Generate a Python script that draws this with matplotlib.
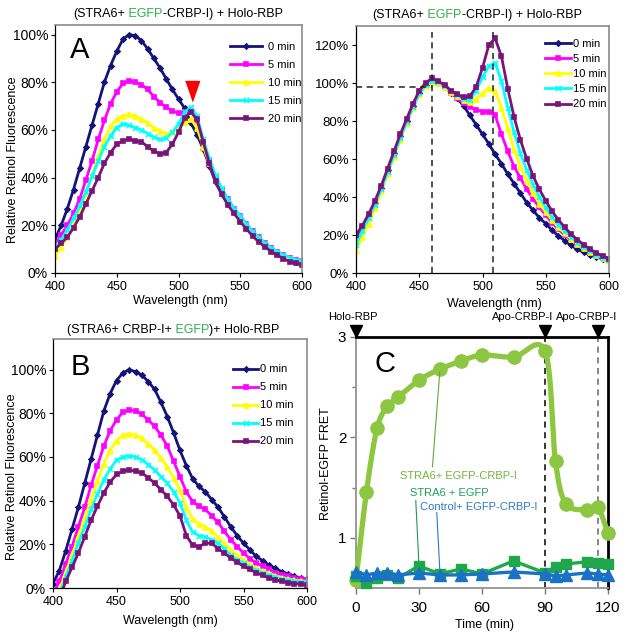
import numpy as np
import matplotlib
matplotlib.use('Agg')
import matplotlib.pyplot as plt
from matplotlib.ticker import PercentFormatter, MultipleLocator, FixedLocator
from matplotlib.offsetbox import TextArea, HPacker, AnchoredOffsetbox
from matplotlib.transforms import offset_copy

plt.rcParams['font.family'] = ['Liberation Sans', 'DejaVu Sans']

# ---------------- data ----------------
wavelength = list(range(400, 601, 5))
time_labels = ['0 min', '5 min', '10 min', '15 min', '20 min']

# Panel A (% relative retinol fluorescence)
a_0 = [14, 20, 27, 35, 44, 53, 62, 71, 80, 87, 93, 98, 100, 99.5, 97.5, 94, 90, 86, 81.5, 77, 73, 69, 63, 58, 52, 45, 38, 33, 29, 25.5, 22, 19, 16.5, 14, 12, 10, 8.5, 7, 5.5, 4.8, 4.2]
a_5 = [12, 16, 20, 25, 31, 39, 47, 56, 64, 71, 76, 79.5, 80.5, 80, 79, 77, 74, 71.5, 69.5, 68, 67, 67.5, 68, 64, 55, 47, 40, 35, 31, 27, 24, 20.5, 17.5, 15, 12.5, 10.5, 9, 7.5, 6.5, 5.5, 5]
a_10 = [7, 11, 15, 20, 26, 33, 41, 49, 56, 61.5, 64.5, 66, 66.5, 66, 64.5, 63, 61, 59.5, 58.5, 59, 61, 63.5, 64.5, 61, 53, 46, 39, 34, 30, 26.5, 23, 19.5, 16.5, 14, 12, 10, 8.5, 7, 6, 5, 4.5]
a_15 = [11, 14, 18, 23, 28, 34, 40.5, 47, 53, 57.5, 61, 62.5, 62, 61, 60, 58.5, 57, 56, 56.5, 59, 62.5, 67.5, 69.5, 66, 56, 48, 41, 35.5, 31, 27, 24, 20.5, 17.5, 15, 12.5, 10.5, 9, 7.5, 6.5, 5.5, 5]
a_20 = [10, 12.5, 15, 19, 23.5, 29, 34.5, 40, 46, 50.5, 54, 55.5, 56, 55.5, 55, 53, 51, 50, 50.5, 54, 59, 65, 67.5, 64.5, 55, 46, 38.5, 33, 28.5, 25, 21.5, 18.5, 15.5, 13, 11, 9, 7.5, 6, 4.8, 4, 3.5]

# Panel A, normalised (top right)
n_0 = [17, 24, 30, 37, 45, 54, 63, 72, 80, 88, 95, 99, 100.5, 100, 98, 95, 92, 88, 83, 78, 73, 68, 62.5, 57.5, 52, 47, 42, 37, 33, 29, 26, 22.5, 19.5, 17, 14.5, 12.5, 11, 9.5, 8.5, 7.5, 7]
n_5 = [16, 23, 29, 36, 44, 53, 62, 71, 79, 87, 94, 98.5, 100.5, 100, 98, 95, 92, 89.5, 87.5, 86, 85, 85, 83, 73, 64, 56, 50, 44, 39, 34.5, 30.5, 26.5, 23, 20, 17.5, 15, 13, 11, 9.5, 8, 7]
n_10 = [12, 19, 26, 34, 43, 52, 61, 70, 79, 87, 94, 98.5, 100.5, 100, 98, 95.5, 93, 91, 90, 91.5, 94.5, 97.5, 96, 87, 76, 65, 56, 48.5, 42, 36.5, 32, 28, 24, 21, 18, 15.5, 13, 11, 9.5, 8, 6.5]
n_15 = [15, 22, 29, 36, 44, 53, 62, 71, 79.5, 87.5, 94.5, 99, 101, 100.5, 98.5, 96, 93.5, 91.5, 91, 96, 103, 109, 110.5, 101, 87, 74, 63, 54, 46.5, 40, 34.5, 29.5, 25.5, 22, 19, 16, 13.5, 11.5, 9.5, 8, 7]
n_20 = [20, 25, 31, 38, 46, 55, 64, 73, 81, 89, 96, 100, 102.5, 101, 99, 96, 94, 92.5, 93, 98, 108, 120, 123.5, 114, 97, 82, 70, 60, 51, 44, 38, 32.5, 28, 24, 20.5, 17.5, 15, 12.5, 10.5, 9, 7.5]

# Panel B
b_0 = [2, 8, 17, 27, 37, 48, 59, 70, 81, 89, 95, 98.5, 100, 99, 97.5, 94.5, 91, 85, 78.5, 71, 63, 56, 50, 46.5, 44, 40.5, 37, 32.5, 28, 24, 20.5, 17.5, 14.5, 12.5, 10.5, 9, 7.5, 6.5, 5.5, 4.5, 4]
b_5 = [-3, 3, 11, 19, 28, 37, 47, 56, 65, 72, 77, 80.5, 81.5, 81, 79.5, 77, 74, 70, 65, 58, 51, 44, 39.5, 37.5, 36, 33, 30, 26, 22, 19, 16, 13.5, 11.5, 10, 8.5, 7, 6, 5.3, 4.6, 4.2, 3.8]
b_10 = [-8, -1, 7, 15, 23.5, 32, 40.5, 49, 57, 63, 67.5, 70, 70.5, 70, 68.5, 66, 63, 59.5, 55.5, 50.5, 45, 37, 31.5, 29.5, 28, 26, 23.5, 20.5, 17.5, 15, 13, 11, 9, 7.8, 6.8, 5.7, 4.8, 4.2, 3.6, 3.3, 3]
b_15 = [-10, -3, 5, 12.5, 20.5, 28, 36, 43, 49.5, 54.5, 58.5, 60, 60.5, 60, 58.8, 56.5, 54, 51, 48, 44, 39, 31, 25.5, 24, 23.5, 22, 20.5, 18, 15, 13, 11.5, 9.5, 8.2, 7, 6, 5, 4, 3.5, 3, 2.8, 2.6]
b_20 = [-12, -5, 3, 9.5, 16, 23.5, 31, 37.5, 43.5, 48.5, 52, 53.5, 54, 53.5, 52.7, 50.5, 48, 45, 42, 38, 33, 24, 19.5, 19, 20.5, 20.5, 18, 16, 13.7, 11.8, 10, 8.5, 7, 5.8, 4.6, 3.8, 3, 2.5, 2, 1.7, 1.5]

# Panel C (Retinol-EGFP FRET)
time_min = [0, 5, 10, 15, 20, 30, 40, 50, 60, 75, 90, 95, 100, 110, 115, 120]
fret_stra6_egfp_crbp = [0.58, 1.46, 2.09, 2.31, 2.40, 2.57, 2.68, 2.76, 2.82, 2.80, 2.86, 1.76, 1.34, 1.28, 1.31, 1.05]
fret_stra6_egfp = [0.62, 0.55, 0.60, 0.63, 0.60, 0.72, 0.64, 0.69, 0.64, 0.77, 0.65, 0.71, 0.74, 0.76, 0.745, 0.74]
fret_control = [0.66, 0.63, 0.65, 0.65, 0.63, 0.65, 0.63, 0.63, 0.64, 0.66, 0.64, 0.62, 0.63, 0.65, 0.64, 0.63]
c_events = [0, 90, 115]
c_event_labels = ['Holo-RBP', 'Apo-CRBP-I', 'Apo-CRBP-I']
c_series_labels = ['STRA6+ EGFP-CRBP-I', 'STRA6 + EGFP', 'Control+ EGFP-CRBP-I']

# ---------------- styling ----------------
W, H = 626, 637
colors = ['#141478', '#ff00ff', '#ffff00', '#00ffff', '#7a147a']
markers = ['D', 's', '^', 'x', 's']
msizes = [2.6, 3.4, 3.6, 3.6, 3.2]
EGFP_GREEN = '#2db34a'

fig = plt.figure(figsize=(W / 100, H / 100), dpi=100)


def px_axes(l, r, t, b):
    return fig.add_axes([l / W, 1 - b / H, (r - l) / W, (b - t) / H])


def fx(x):
    return x / W


def fy(y):
    return 1 - y / H


def multicolor_text(xc, yc, parts, fs=9):
    areas = [TextArea(s, textprops=dict(color=c, fontsize=fs)) for s, c in parts]
    box = HPacker(children=areas, align='baseline', pad=0, sep=0)
    anc = AnchoredOffsetbox(loc='center', child=box, pad=0, borderpad=0, frameon=False,
                            bbox_to_anchor=(fx(xc), fy(yc)), bbox_transform=fig.transFigure)
    fig.add_artist(anc)


def spectra(ax, series, ylim, yticks, leg_anchor, leg_kw, ytick_fs):
    for vals, c, m, ms, lab in zip(series, colors, markers, msizes, time_labels):
        ax.plot(wavelength, vals, color=c, lw=2.0, marker=m, ms=ms, mec=c, mfc=c,
                mew=1.2, label=lab)
    ax.set_xlim(400, 600)
    ax.set_ylim(*ylim)
    ax.set_xticks([400, 450, 500, 550, 600])
    ax.set_yticks(yticks)
    ax.yaxis.set_major_formatter(PercentFormatter(xmax=100, decimals=0))
    ax.tick_params(axis='x', labelsize=9, length=3, width=0.8, pad=3)
    ax.tick_params(axis='y', labelsize=ytick_fs, length=3, width=0.8, pad=2)
    for s in ['top', 'right']:
        ax.spines[s].set_color('#8a8a8a')
        ax.spines[s].set_linewidth(1.2)
    for s in ['left', 'bottom']:
        ax.spines[s].set_color('black')
        ax.spines[s].set_linewidth(0.9)
    ax.legend(loc='upper left', bbox_to_anchor=leg_anchor, frameon=False, borderpad=0,
              borderaxespad=0, numpoints=1, prop={'size': 8}, **leg_kw)


# ---- Panel A ----
axA = px_axes(55, 302, 25, 273)
spectra(axA, [a_0, a_5, a_10, a_15, a_20], (0, 104), [0, 20, 40, 60, 80, 100],
        (0.708, 0.93), dict(handlelength=2.9, handletextpad=0.5, labelspacing=0.72), 10)
axA.plot([511], [76.5], marker=[(-0.7, 1), (0.7, 1), (0, -1)], ms=14.4, color='#ff0000',
         mec='#ff0000', ls='none')
fig.text(fx(80), fy(50), 'A', fontsize=21, ha='center', va='center')
multicolor_text(178, 14, [('(STRA6+', 'black'), (' EGFP', EGFP_GREEN), ('-CRBP-I) + Holo-RBP', 'black')])
fig.text(fx(13), fy(160), 'Relative Retinol Fluorescence', rotation=90, ha='center', va='center', fontsize=9)
fig.text(fx(180), fy(301), 'Wavelength (nm)', ha='center', va='center', fontsize=9)

# ---- Panel A normalised ----
axN = px_axes(356, 609, 26, 273)
spectra(axN, [n_0, n_5, n_10, n_15, n_20], (0, 130), [0, 20, 40, 60, 80, 100, 120],
        (0.747, 0.949), dict(handlelength=2.3, handletextpad=0.2, labelspacing=0.47), 9.5)
axN.plot([460, 460], [0, 127], color='#222222', lw=1.1, ls=(0, (4, 3)), zorder=6)
axN.plot([508, 508], [0, 127], color='#222222', lw=1.1, ls=(0, (4, 3)), zorder=6)
axN.plot([400, 460], [98, 98], color='#222222', lw=1.1, ls=(0, (4, 3)), zorder=6)
multicolor_text(477, 15, [('(STRA6+', 'black'), (' EGFP', EGFP_GREEN), ('-CRBP-I) + Holo-RBP', 'black')])
fig.text(fx(494), fy(304), 'Wavelength (nm)', ha='center', va='center', fontsize=9)

# ---- Panel B ----
axB = px_axes(53, 307, 339, 588)
spectra(axB, [b_0, b_5, b_10, b_15, b_20], (0, 114), [0, 20, 40, 60, 80, 100],
        (0.709, 0.898), dict(handlelength=2.25, handletextpad=0.2, labelspacing=0.72), 10)
fig.text(fx(80), fy(367), 'B', fontsize=21, ha='center', va='center')
multicolor_text(173, 330, [('(STRA6+ CRBP-I+', 'black'), (' EGFP', EGFP_GREEN), (')+ Holo-RBP', 'black')])
fig.text(fx(12), fy(477), 'Relative Retinol Fluorescence', rotation=90, ha='center', va='center', fontsize=9)
fig.text(fx(170), fy(621), 'Wavelength (nm)', ha='center', va='center', fontsize=9)

# ---- Panel C ----
axC = px_axes(356, 608, 337, 588)
LG, DG, BL = '#8dc641', '#1ea84b', '#1a72c4'


def catmull(x, y, n=24):
    x = np.asarray(x, float)
    y = np.asarray(y, float)
    px = np.concatenate([[2 * x[0] - x[1]], x, [2 * x[-1] - x[-2]]])
    py = np.concatenate([[2 * y[0] - y[1]], y, [2 * y[-1] - y[-2]]])
    ox, oy = [], []
    s = np.linspace(0, 1, n, endpoint=False)
    for i in range(1, len(px) - 2):
        for arr, out in ((px, ox), (py, oy)):
            p0, p1, p2, p3 = arr[i - 1], arr[i], arr[i + 1], arr[i + 2]
            out.extend(0.5 * (2 * p1 + (-p0 + p2) * s + (2 * p0 - 5 * p1 + 4 * p2 - p3) * s ** 2
                              + (-p0 + 3 * p1 - 3 * p2 + p3) * s ** 3))
    ox.append(x[-1])
    oy.append(y[-1])
    return ox, oy


sx, sy = catmull(time_min, fret_stra6_egfp_crbp)
axC.plot(sx, sy, color=LG, lw=3.8, clip_on=False, zorder=3, solid_capstyle='round')
axC.plot(time_min, fret_stra6_egfp_crbp, 'o', ms=9.5, color=LG, clip_on=False, zorder=3)
axC.plot(time_min, fret_stra6_egfp, color=DG, lw=2.4, marker='s', ms=7.5, clip_on=False, zorder=4)
axC.plot(time_min, fret_control, color=BL, lw=2.4, marker='^', ms=8.5, clip_on=False, zorder=5)
axC.plot([90, 90], [0.5, 3], color='black', lw=1.1, ls=(0, (4, 3)), zorder=2)
axC.plot([115, 115], [0.5, 3], color='#666666', lw=1.1, ls=(0, (4, 3)), zorder=2)
axC.set_xlim(0, 120)
axC.set_ylim(0.5, 3)
axC.set_xticks([0, 30, 60, 90, 120])
axC.set_yticks([1, 2, 3])
axC.yaxis.set_minor_locator(FixedLocator([1.5, 2.5]))
axC.tick_params(axis='both', labelsize=11, length=4, width=1, color='#777777')
axC.tick_params(axis='x', pad=5)
axC.tick_params(axis='y', pad=3)
axC.tick_params(axis='y', which='minor', length=3, width=1, color='#777777')
for s in ['top', 'right']:
    axC.spines[s].set_color('black')
    axC.spines[s].set_linewidth(2)
for s in ['left', 'bottom']:
    axC.spines[s].set_color('#9a9a9a')
    axC.spines[s].set_linewidth(1.4)
tri_tr = offset_copy(axC.transData, fig=fig, y=4.5, units='points')
for t in c_events:
    axC.plot([t], [3], marker='v', ms=9, color='black', clip_on=False, transform=tri_tr, zorder=7)
for xc, lab in zip([353, 523, 587], c_event_labels):
    fig.text(fx(xc), fy(317), lab, ha='center', va='center', fontsize=8)

axC.annotate('', xy=(40, 2.68), xytext=(36.3, 1.68),
             arrowprops=dict(arrowstyle='-', color='#6aa33a', lw=0.8))
axC.annotate('', xy=(30, 0.72), xytext=(28.4, 1.40),
             arrowprops=dict(arrowstyle='-', color='#1e9a55', lw=0.8))
axC.annotate('', xy=(40, 0.64), xytext=(38.4, 1.28),
             arrowprops=dict(arrowstyle='-', color='#2b78c8', lw=0.8))
axC.text(49, 1.62, c_series_labels[0], color='#79b33a', fontsize=8, ha='center', va='center')
axC.text(44.5, 1.45, c_series_labels[1], color='#1ea05a', fontsize=8, ha='center', va='center')
axC.text(58.5, 1.31, c_series_labels[2], color='#2b78c8', fontsize=8, ha='center', va='center')
fig.text(fx(385), fy(364), 'C', fontsize=21, ha='center', va='center')
fig.text(fx(326), fy(464), 'Retinol-EGFP FRET', rotation=90, ha='center', va='center', fontsize=9)
fig.text(fx(484), fy(625), 'Time (min)', ha='center', va='center', fontsize=9)

fig.savefig('out.png', dpi=100)
